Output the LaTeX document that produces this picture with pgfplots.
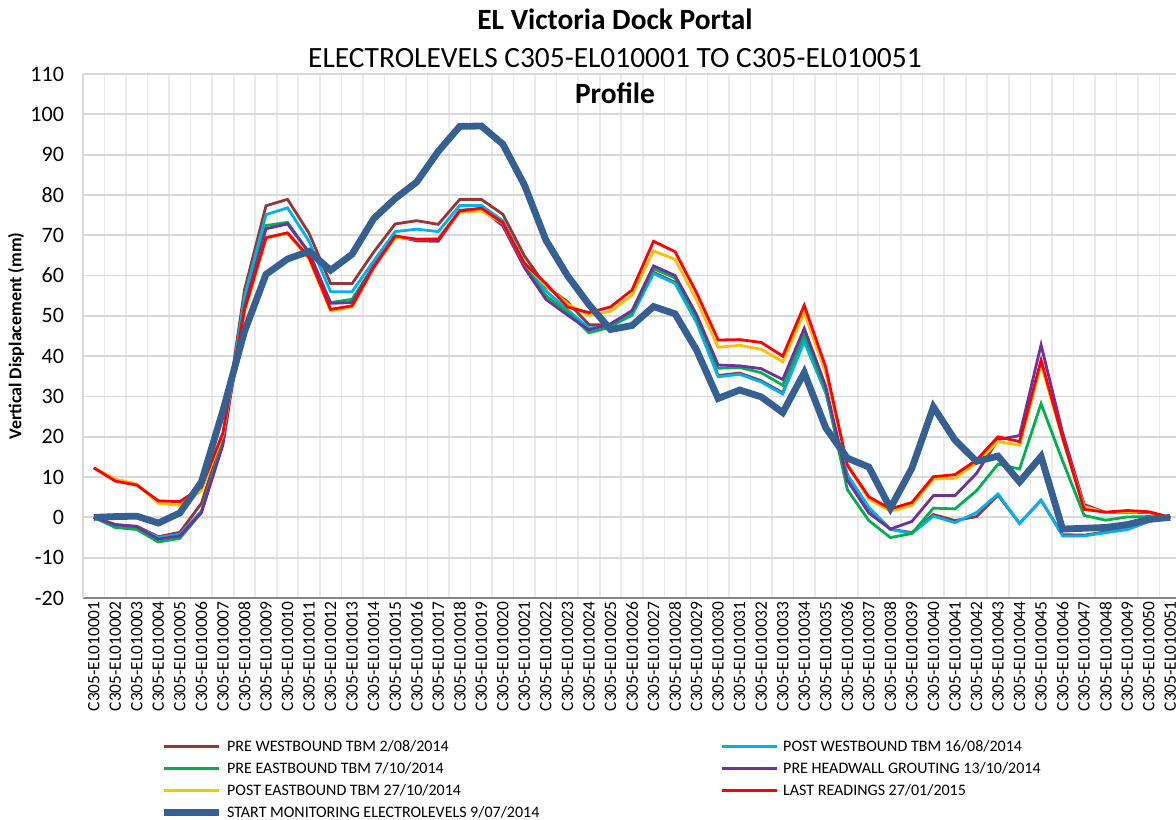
\documentclass[border=0pt]{standalone}
\usepackage{pgfplots}
\pgfplotsset{compat=1.18}
\usepackage{pgfplotstable}
\usepackage{fontspec}
\setmainfont{Carlito}
\definecolor{cbrown}{HTML}{953735}
\definecolor{ccyan}{HTML}{00B0F0}
\definecolor{cgreen}{HTML}{00B050}
\definecolor{cpurple}{HTML}{7030A0}
\definecolor{cyellow}{HTML}{FFC000}
\definecolor{cred}{HTML}{FF0000}
\definecolor{cblue}{HTML}{376092}
\definecolor{hgrid}{HTML}{D9D9D9}
\definecolor{vgrid}{HTML}{EBEBEB}
\definecolor{xaxis}{HTML}{868686}
\pgfplotstableread{
i brown cyan green purple yellow red blue
0 0 0 0 0 12.3 12.3 0
1 -1.8 -2.0 -2.5 -1.8 9.5 9.0 0.2
2 -2.2 -2.4 -3.0 -2.3 8.3 8.0 0.3
3 -4.8 -5.0 -6.1 -5.4 3.5 4.1 -1.4
4 -3.7 -4.2 -5.2 -4.6 3.0 3.9 1.1
5 3.5 1.6 1.2 1.2 6.6 7.5 8.8
6 20.0 19.0 19.0 18.0 20.5 21.0 26.5
7 56.4 54.7 52.5 52.0 51.0 51.5 46.1
8 77.3 75.1 72.4 71.6 69.3 69.4 60.3
9 78.9 76.8 73.2 72.8 70.5 70.6 64.1
10 70.5 68.5 65.7 65.7 64.0 64.5 66.0
11 58.0 56.0 53.3 53.1 51.2 51.6 61.3
12 58.0 56.0 54.1 53.3 52.2 52.5 65.3
13 65.8 63.6 62.4 62.4 62.0 62.0 74.1
14 72.8 70.9 69.5 69.8 69.5 69.8 79.1
15 73.6 71.5 69.0 68.6 69.0 69.0 83.2
16 72.7 70.9 69.0 68.5 69.2 69.0 90.8
17 78.9 77.4 76.2 76.1 75.8 76.0 97.0
18 78.9 77.4 76.5 76.6 76.0 76.7 97.1
19 75.2 73.6 72.8 72.3 73.0 73.1 92.6
20 64.9 63.2 62.5 62.0 63.0 63.0 82.5
21 57.3 56.2 55.0 54.1 57.5 58.0 68.8
22 53.5 51.5 51.0 50.2 53.0 52.2 60.0
23 47.8 47.0 45.8 46.5 50.1 50.8 52.8
24 47.8 47.5 47.2 48.0 51.1 52.2 46.6
25 50.4 50.1 50.5 51.3 55.1 56.4 47.6
26 60.8 60.5 61.7 62.4 66.1 68.5 52.3
27 58.3 58.0 59.4 60.0 64.0 65.9 50.5
28 48.8 48.3 49.3 50.3 53.9 55.7 41.5
29 35.2 34.9 37.0 37.8 42.2 44.0 29.5
30 35.8 35.5 37.2 37.6 42.7 44.1 31.6
31 33.9 33.6 35.9 36.9 41.7 43.4 29.9
32 30.9 30.6 32.8 34.2 38.6 40.0 26.0
33 43.8 43.6 45.4 46.9 50.8 52.6 35.9
34 31.0 30.9 31.5 32.5 35.8 37.2 22.2
35 10.5 10.6 6.9 9.2 12.8 13.0 14.7
36 2.2 2.5 -0.8 1.1 4.5 5.1 12.5
37 -2.9 -3.0 -5.0 -2.9 1.5 2.1 2.3
38 -3.8 -4.0 -4.0 -1.0 3.0 3.7 12.2
39 0.7 0.3 2.3 5.4 9.5 10.1 27.4
40 -0.8 -1.3 2.1 5.4 9.7 10.6 19.2
41 0.2 1.2 6.6 10.9 13.5 14.2 13.9
42 5.5 5.8 13.2 19.3 18.8 20.0 15.2
43 -1.5 -1.5 12.0 20.3 17.9 18.8 8.8
44 4.2 4.3 28.2 42.8 38.0 39.0 15.1
45 -4.3 -4.6 14.0 21.0 19.5 19.8 -2.9
46 -4.4 -4.6 0.5 3.2 2.7 2.0 -2.7
47 -3.6 -3.8 -0.7 1.2 1.2 1.3 -2.5
48 -3.0 -3.0 0.1 1.3 1.5 1.7 -1.8
49 -1.0 -1.0 0.2 1.2 1.3 1.4 -0.5
50 0 0 0 0 0 0 0
}\datatable
\begin{document}
\begin{tikzpicture}
\path[use as bounding box] (0,0) rectangle (588pt,409.5pt);
\begin{axis}[
  at={(41.5pt,110.5pt)}, anchor=south west,
  width=549pt, height=262pt, scale only axis,
  xmin=-0.5, xmax=50.5, ymin=-20, ymax=110,
  ytick={-20,-10,...,110},
  xtick={0,1,...,50},
  minor xtick={-0.5,0.5,...,50.5},
  xticklabels={C305-EL010001,C305-EL010002,C305-EL010003,C305-EL010004,C305-EL010005,C305-EL010006,C305-EL010007,C305-EL010008,C305-EL010009,C305-EL010010,C305-EL010011,C305-EL010012,C305-EL010013,C305-EL010014,C305-EL010015,C305-EL010016,C305-EL010017,C305-EL010018,C305-EL010019,C305-EL010020,C305-EL010021,C305-EL010022,C305-EL010023,C305-EL010024,C305-EL010025,C305-EL010026,C305-EL010027,C305-EL010028,C305-EL010029,C305-EL010030,C305-EL010031,C305-EL010032,C305-EL010033,C305-EL010034,C305-EL010035,C305-EL010036,C305-EL010037,C305-EL010038,C305-EL010039,C305-EL010040,C305-EL010041,C305-EL010042,C305-EL010043,C305-EL010044,C305-EL010045,C305-EL010046,C305-EL010047,C305-EL010048,C305-EL010049,C305-EL010050,C305-EL010051},
  xticklabel style={rotate=90, anchor=east, font=\fontsize{8.7}{10}\selectfont, inner sep=1.5pt},
  yticklabel style={font=\fontsize{11}{13}\selectfont, xshift=-6pt},
  /pgf/number format/assume math mode=true,
  major tick length=0pt, minor tick length=0pt,
  ymajorgrids, xminorgrids,
  major grid style={draw=hgrid, line width=0.9pt},
  minor grid style={draw=vgrid, line width=0.8pt},
  axis lines*=left,
  x axis line style={draw=xaxis, line width=1pt, -},
  y axis line style={draw=hgrid, line width=0.9pt, -},
  legend columns=2,
  legend cell align=left,
  legend image code/.code={\draw[#1] (0pt,0pt) -- (27.5pt,0pt);},
  legend style={at={(axis description cs:0.0701,-0.269)}, anchor=north west,
    draw=none, fill=none, inner sep=0pt,
    font=\fontsize{8}{9}\selectfont, row sep=3.5pt,
    nodes={inner sep=0pt, text height=6pt, text depth=1.5pt},
    /tikz/every odd column/.append style={column sep=2.5pt},
    /tikz/every even column/.append style={column sep=90.5pt}},
]
\addplot[cbrown, line width=1.4pt] table[x=i,y=brown] {\datatable};
\addlegendentry{PRE WESTBOUND TBM 2/08/2014}
\addplot[ccyan, line width=1.4pt] table[x=i,y=cyan] {\datatable};
\addlegendentry{POST WESTBOUND TBM 16/08/2014}
\addplot[cgreen, line width=1.4pt] table[x=i,y=green] {\datatable};
\addlegendentry{PRE EASTBOUND TBM 7/10/2014}
\addplot[cpurple, line width=1.4pt] table[x=i,y=purple] {\datatable};
\addlegendentry{PRE HEADWALL GROUTING 13/10/2014}
\addplot[cyellow, line width=1.4pt] table[x=i,y=yellow] {\datatable};
\addlegendentry{POST EASTBOUND TBM 27/10/2014}
\addplot[cred, line width=1.4pt] table[x=i,y=red] {\datatable};
\addlegendentry{LAST READINGS 27/01/2015}
\addplot[cblue, line width=3.4pt] table[x=i,y=blue] {\datatable};
\addlegendentry{START MONITORING ELECTROLEVELS 9/07/2014}
\end{axis}
\node[anchor=base, font=\fontsize{14.7}{16}\selectfont\bfseries] at (307.5pt,394.5pt) {EL Victoria Dock Portal};
\node[anchor=base, font=\fontsize{14.7}{16}\selectfont] at (307.5pt,375.5pt) {ELECTROLEVELS C305-EL010001 TO C305-EL010051};
\node[anchor=base, font=\fontsize{14.7}{16}\selectfont\bfseries] at (307.5pt,357.5pt) {Profile};
\node[rotate=90, font=\fontsize{9}{10}\selectfont\bfseries] at (8pt,241.5pt) {Vertical Displacement (mm)};
\end{tikzpicture}
\end{document}
